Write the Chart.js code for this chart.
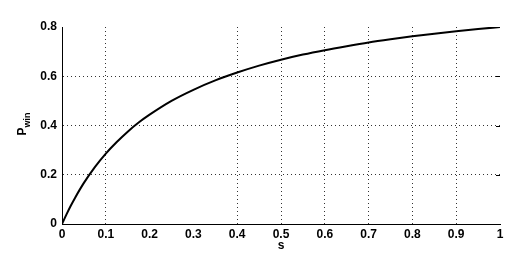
<!DOCTYPE html>
<html>
<head>
<meta charset="utf-8">
<script src="https://cdn.jsdelivr.net/npm/chart.js@4.4.1/dist/chart.umd.min.js"></script>
<style>
  html, body { margin: 0; padding: 0; background: #fff; }
  #wrap { width: 532px; height: 253px; }
</style>
</head>
<body>
<div id="wrap"><canvas id="chart" width="532" height="253"></canvas></div>
<script>
// --- data ---
const sValues = [0, 0.01, 0.02, 0.03, 0.05, 0.075, 0.1, 0.125, 0.15, 0.175, 0.2, 0.25, 0.3, 0.35,
                 0.4, 0.45, 0.5, 0.55, 0.6, 0.65, 0.7, 0.75, 0.8, 0.85, 0.9, 0.95, 1];
const pWin = [0, 0.038, 0.074, 0.107, 0.167, 0.231, 0.286, 0.333, 0.375, 0.412, 0.444, 0.5, 0.545, 0.583,
              0.615, 0.643, 0.667, 0.688, 0.706, 0.722, 0.737, 0.75, 0.762, 0.773, 0.783, 0.792, 0.8];
const xTicks = [0, 0.1, 0.2, 0.3, 0.4, 0.5, 0.6, 0.7, 0.8, 0.9, 1];
const yTicks = [0, 0.2, 0.4, 0.6, 0.8];
const xGridHidden = [0, 0.2, 0.3, 1];   // no visible gridline there in the reference
const yGridHidden = [0, 0.8];

const FONT = 'Liberation Sans, Arial, sans-serif';
const near = (a, list) => list.some(v => Math.abs(v - a) < 1e-6);

// y axis title "P_win" with subscript, drawn rotated
const yTitlePlugin = {
    id: 'yTitle',
    afterDraw(chart) {
        const { ctx, chartArea } = chart;
        const cy = (chartArea.top + chartArea.bottom) / 2 + 10;
        ctx.save();
        ctx.translate(26, cy);
        ctx.rotate(-Math.PI / 2);
        ctx.fillStyle = '#000';
        ctx.textBaseline = 'alphabetic';
        ctx.font = 'bold 12px ' + FONT;
        ctx.fillText('P', 0, 0);
        const w = ctx.measureText('P').width;
        ctx.font = 'bold 9px ' + FONT;
        ctx.fillText('win', w, 4);
        ctx.restore();
    }
};

// short inward ticks on the right edge, like the original
const rightTicksPlugin = {
    id: 'rightTicks',
    afterDraw(chart) {
        const { ctx, chartArea, scales } = chart;
        ctx.save();
        ctx.strokeStyle = '#000';
        ctx.lineWidth = 1;
        yTicks.slice(1, -1).forEach(v => {
            const y = Math.round(scales.y.getPixelForValue(v)) + 0.5;
            ctx.beginPath();
            ctx.moveTo(chartArea.right - 4, y);
            ctx.lineTo(chartArea.right, y);
            ctx.stroke();
        });
        ctx.restore();
    }
};

new Chart(document.getElementById('chart'), {
    type: 'line',
    data: {
        datasets: [{
            data: sValues.map((s, i) => ({ x: s, y: pWin[i] })),
            borderColor: '#000',
            borderWidth: 2,
            pointRadius: 0,
            cubicInterpolationMode: 'monotone',
            fill: false
        }]
    },
    options: {
        responsive: false,
        animation: false,
        events: [],
        layout: { padding: { top: 27, right: 32, left: 0, bottom: 0 } },
        plugins: { legend: { display: false }, tooltip: { enabled: false } },
        scales: {
            x: {
                type: 'linear',
                min: 0, max: 1,
                afterBuildTicks: axis => { axis.ticks = xTicks.map(v => ({ value: v })); },
                afterFit: axis => { axis.height = 29; },
                ticks: {
                    color: '#000',
                    padding: 3,
                    maxRotation: 0,
                    autoSkip: false,
                    font: { family: FONT, size: 12, weight: 'bold' },
                    callback: v => (v === 0 || v === 1) ? String(v) : v.toFixed(1)
                },
                grid: {
                    drawTicks: false,
                    color: c => near(c.tick.value, xGridHidden) ? 'rgba(0,0,0,0)' : '#333',
                    lineWidth: 1
                },
                border: { display: true, color: '#000', width: 1, dash: [1, 3] },
                title: { display: true, text: 's', color: '#000', padding: 0,
                         font: { family: FONT, size: 12, weight: 'bold' } }
            },
            y: {
                min: 0, max: 0.8,
                afterBuildTicks: axis => { axis.ticks = yTicks.map(v => ({ value: v })); },
                afterFit: axis => { axis.width = 62; },
                ticks: {
                    color: '#000',
                    padding: 5,
                    autoSkip: false,
                    font: { family: FONT, size: 12, weight: 'bold' },
                    callback: v => v === 0 ? '0' : v.toFixed(1)
                },
                grid: {
                    drawTicks: false,
                    color: c => near(c.tick.value, yGridHidden) ? 'rgba(0,0,0,0)' : '#333',
                    lineWidth: 1
                },
                border: { display: true, color: '#000', width: 1, dash: [1, 3] }
            }
        }
    },
    plugins: [yTitlePlugin, rightTicksPlugin]
});
</script>
</body>
</html>
